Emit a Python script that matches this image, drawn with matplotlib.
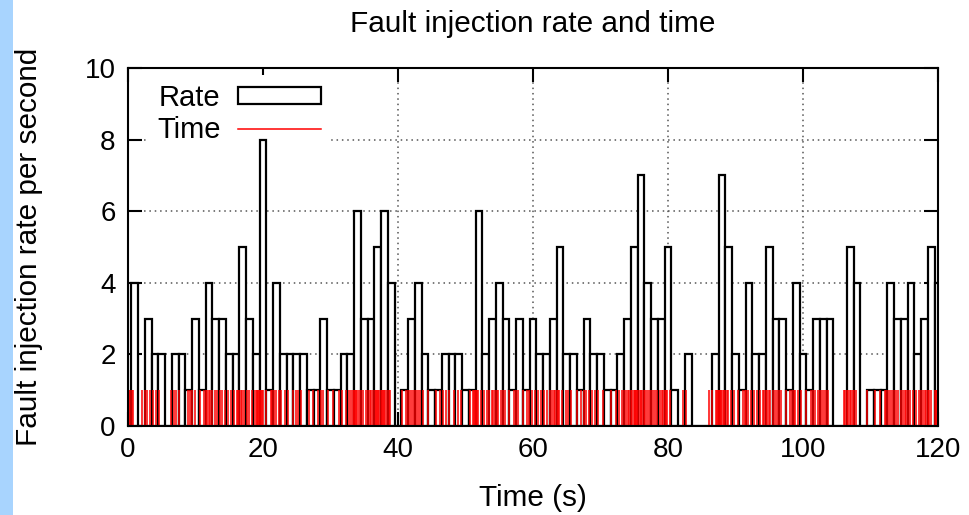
import numpy as np
import matplotlib.pyplot as plt
from matplotlib.patches import Rectangle
from matplotlib.lines import Line2D

plt.rcParams['font.family'] = ['Liberation Sans', 'DejaVu Sans']

# faults per one-second bin, bar k counts the faults seen in [k-1, k)
seconds = np.arange(1, 121)
rate = [4, 0, 3, 2, 2, 0, 2, 2, 1, 3,
        1, 4, 3, 3, 2, 2, 5, 3, 2, 8,
        1, 4, 2, 2, 2, 2, 1, 1, 3, 1,
        1, 2, 2, 6, 3, 3, 5, 6, 4, 0,
        1, 3, 4, 2, 1, 1, 2, 2, 2, 1,
        1, 6, 2, 3, 4, 3, 1, 3, 1, 3,
        2, 2, 3, 5, 2, 2, 1, 3, 2, 2,
        1, 1, 2, 3, 5, 7, 4, 3, 3, 5,
        1, 0, 2, 0, 0, 0, 2, 7, 5, 2,
        1, 4, 2, 2, 5, 3, 3, 1, 4, 2,
        1, 3, 3, 3, 0, 0, 5, 4, 0, 1,
        1, 1, 4, 3, 3, 4, 2, 3, 5, 4]

# injection times (s), estimated from the red impulses
times_0_20 = [0.18, 0.31, 0.52, 0.77, 2.12, 2.45, 2.83, 3.26, 3.71, 4.15, 4.58,
              6.34, 6.81, 7.12, 7.55, 8.86, 9.21, 9.47, 9.88, 10.62,
              11.30, 11.52, 11.74, 11.93, 12.18, 12.49, 12.86, 13.22, 13.58, 13.91,
              14.35, 14.80, 15.27, 15.66, 16.08, 16.29, 16.51, 16.73, 16.94,
              17.15, 17.62, 17.88, 18.31, 18.74,
              19.05, 19.17, 19.30, 19.42, 19.58, 19.69, 19.83, 19.95]
times_20_40 = [20.44, 21.12, 21.38, 21.65, 21.89, 22.36, 22.71, 23.24, 23.67,
               24.41, 24.86, 25.19, 25.58, 26.77, 27.45, 28.14, 28.52, 28.88,
               29.63, 30.38, 31.22, 31.70, 32.35, 32.81,
               33.08, 33.26, 33.45, 33.61, 33.79, 33.95, 34.17, 34.54, 34.86,
               35.21, 35.49, 35.83, 36.07, 36.28, 36.52, 36.74, 36.91,
               37.06, 37.22, 37.41, 37.59, 37.77, 37.93, 38.12, 38.37, 38.64, 38.88]
times_40_60 = [40.55, 41.18, 41.52, 41.84, 42.10, 42.36, 42.63, 42.89, 43.27, 43.72,
               44.48, 45.61, 46.23, 46.69, 47.15, 47.58, 48.34, 48.82, 49.27, 50.66,
               51.05, 51.21, 51.39, 51.58, 51.76, 51.92, 52.28, 52.74,
               53.14, 53.47, 53.85, 54.09, 54.33, 54.61, 54.87, 55.22, 55.53, 55.81,
               56.42, 57.16, 57.49, 57.83, 58.57, 59.13, 59.46, 59.79]
times_60_80 = [60.31, 60.77, 61.18, 61.64, 62.12, 62.45, 62.80,
               63.06, 63.27, 63.49, 63.71, 63.90, 64.36, 64.82, 65.24, 65.69, 66.53,
               67.15, 67.48, 67.86, 68.27, 68.73, 69.19, 69.62, 70.41, 71.58,
               72.24, 72.70, 73.12, 73.44, 73.81, 74.05, 74.26, 74.48, 74.69, 74.91,
               75.04, 75.18, 75.33, 75.47, 75.62, 75.78, 75.93,
               76.11, 76.38, 76.62, 76.87, 77.17, 77.52, 77.84, 78.09, 78.43, 78.76,
               79.06, 79.27, 79.49, 79.70, 79.92]
times_80_100 = [80.35, 82.22, 82.68, 86.12, 86.47,
                87.05, 87.19, 87.34, 87.49, 87.63, 87.78, 87.92,
                88.08, 88.29, 88.51, 88.72, 88.93, 89.26, 89.71, 90.43,
                91.11, 91.36, 91.62, 91.88, 92.31, 92.77, 93.18, 93.59,
                94.07, 94.28, 94.50, 94.71, 94.92, 95.16, 95.49, 95.82,
                96.13, 96.44, 96.78, 97.52, 98.09, 98.34, 98.61, 98.87, 99.22, 99.66]
times_100_120 = [100.47, 101.14, 101.46, 101.83, 102.19, 102.52, 102.86,
                 103.08, 103.39, 103.71, 106.06, 106.27, 106.49, 106.70, 106.91,
                 107.10, 107.35, 107.61, 107.86, 109.48, 110.62, 111.35,
                 112.09, 112.34, 112.60, 112.87, 113.17, 113.51, 113.84,
                 114.12, 114.45, 114.79, 115.08, 115.33, 115.59, 115.85,
                 116.29, 116.74, 117.14, 117.48, 117.81,
                 118.06, 118.27, 118.49, 118.70, 118.92, 119.55, 119.68, 119.80, 119.93]
times = times_0_20 + times_20_40 + times_40_60 + times_60_80 + times_80_100 + times_100_120

fig = plt.figure(figsize=(9.7, 5.15), dpi=100)
ax = fig.add_axes([0.132, 0.1728, 0.835, 0.6951])

# light blue strip on the left edge
fig.patches.append(Rectangle((0, 0), 13 / 970, 1, transform=fig.transFigure,
                             facecolor='#a8d4fe', edgecolor='none'))

bars = ax.bar(seconds, rate, width=1.0, color='white', edgecolor='black',
              linewidth=1.6, label='Rate', zorder=1)
ax.vlines(times, 0, 1, color='red', linewidth=1.1, zorder=2)

ax.set_xlim(0, 120)
ax.set_ylim(0, 10)
ax.set_xticks(np.arange(0, 121, 20))
ax.set_yticks(np.arange(0, 11, 2))
ax.set_axisbelow(True)
ax.grid(True, linestyle=(0, (1, 2.5)), color='#555555', linewidth=1.1)
ax.tick_params(direction='in', length=10, width=1.5, labelsize=20,
               top=True, right=True)
ax.tick_params(axis='x', pad=8)
ax.tick_params(axis='y', pad=9)
for s in ax.spines.values():
    s.set_linewidth(1.5)

ax.set_title('Fault injection rate and time', fontsize=21.4, pad=26)
ax.set_xlabel('Time (s)', fontsize=21.4, labelpad=15)
ax.set_ylabel('Fault injection rate per second', fontsize=21.4, labelpad=30)

time_handle = Line2D([], [], color='red', linewidth=1.1)
leg = ax.legend([bars, time_handle], ['Rate', 'Time'],
                loc='upper left', bbox_to_anchor=(0.025, 0.98), fontsize=21,
                markerfirst=False, handlelength=2.85, handleheight=0.5,
                handletextpad=0.6, labelspacing=0.15, borderpad=0.3,
                borderaxespad=0.0, frameon=True, fancybox=False)
leg.get_frame().set_facecolor('white')
leg.get_frame().set_edgecolor('none')
leg.get_frame().set_alpha(1.0)
leg.set_zorder(0.9)

fig.savefig('out.png', dpi=100)
